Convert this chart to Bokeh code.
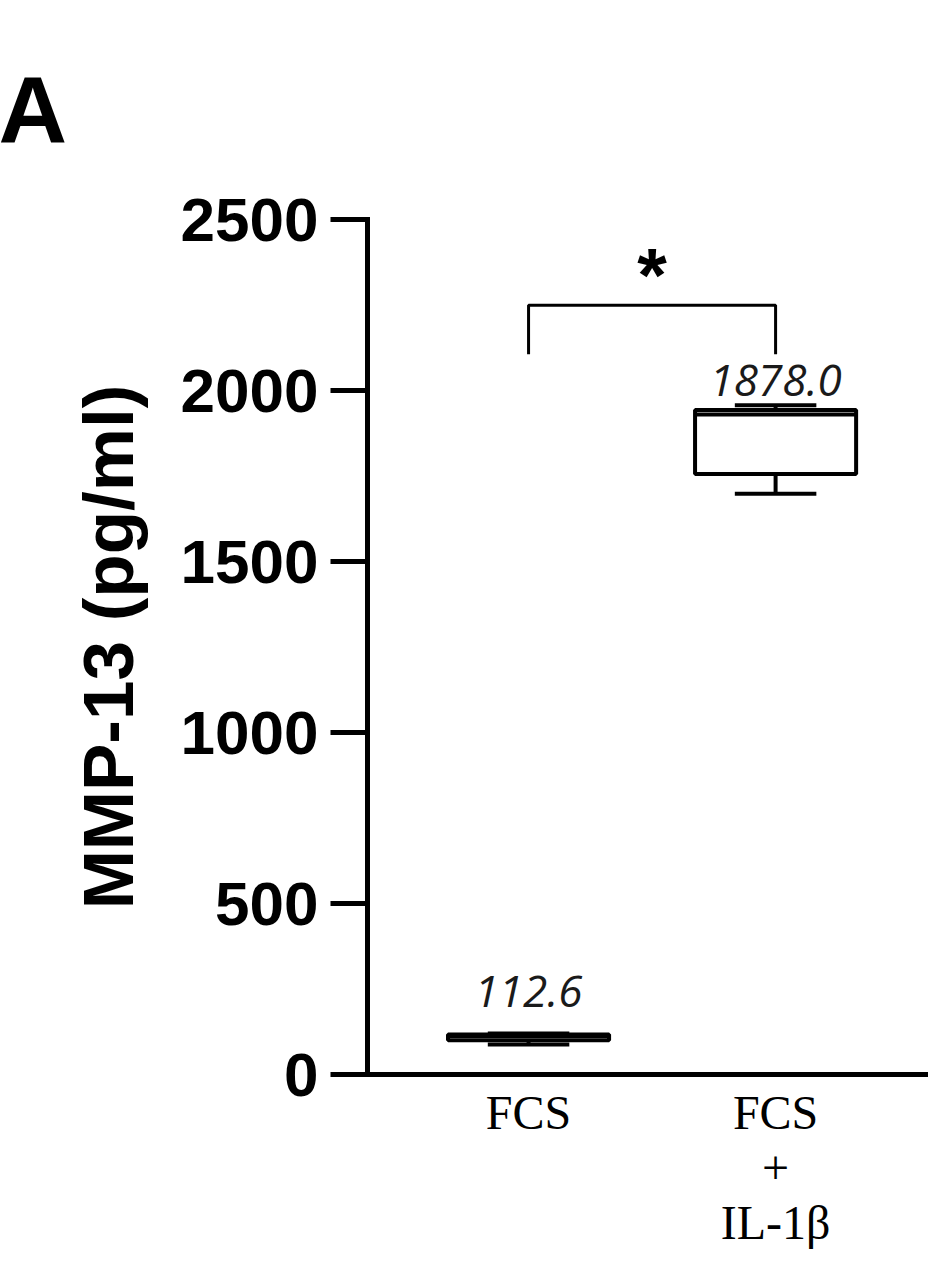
import numpy as np
from bokeh.plotting import figure
from bokeh.models import Range1d, FixedTicker, ColumnDataSource
from bokeh.core.properties import value
from bokeh.embed import file_html
from bokeh.resources import INLINE

# ---- data ----
groups = ["FCS", "FCS\n+\nIL-1β"]
group_pos = [1, 2]
whisker_lo = [88, 1698]
q1 = [100, 1756]
median = [112.6, 1930]
q3 = [117, 1943]
whisker_hi = [120, 1957]
value_labels = ["112.6", "1878.0"]
y_ticks = [0, 500, 1000, 1500, 2000, 2500]
bracket_low = [2106, 2106]
bracket_top = 2249
significance = "*"
panel_letter = "A"

box_w = 0.652
cap_w = 0.33
label_gap = [-42, -25]

p = figure(width=928, height=1252,
           x_range=Range1d(0.348, 2.619), y_range=Range1d(0, 2500),
           output_backend="svg", toolbar_location=None,
           min_border_left=367, min_border_right=0,
           min_border_top=219, min_border_bottom=178)
p.outline_line_color = None
p.grid.visible = False
p.background_fill_color = "white"

# panel letter as title
p.title.text = panel_letter
p.title.align = "left"
p.title.vertical_align = "top"
p.title.offset = -369
p.title.text_font = "Liberation Sans"
p.title.text_font_style = "bold"
p.title.text_font_size = "95px"
p.title.text_color = "black"
p.title.standoff = 110

src = ColumnDataSource(dict(
    x=group_pos, lo=whisker_lo, q1=q1, med=median, q3=q3, hi=whisker_hi,
    left=[x - box_w / 2 for x in group_pos], right=[x + box_w / 2 for x in group_pos],
    cl=[x - cap_w / 2 for x in group_pos], cr=[x + cap_w / 2 for x in group_pos],
    lab=value_labels, yoff=label_gap))

lw = 4
# whiskers
p.segment(x0="x", x1="x", y0="q3", y1="hi", source=src, line_color="black", line_width=lw)
p.segment(x0="x", x1="x", y0="lo", y1="q1", source=src, line_color="black", line_width=lw)
p.segment(x0="cl", x1="cr", y0="hi", y1="hi", source=src, line_color="black", line_width=lw)
p.segment(x0="cl", x1="cr", y0="lo", y1="lo", source=src, line_color="black", line_width=lw)
# boxes
p.quad(left="left", right="right", bottom="q1", top="q3", source=src,
       fill_color="white", line_color="black", line_width=lw)
p.segment(x0="left", x1="right", y0="med", y1="med", source=src, line_color="black", line_width=lw)

# value labels
p.text(x="x", y="hi", text="lab", source=src, text_align="center", text_baseline="alphabetic",
       text_font=value("Open Sans"), text_font_style="italic", text_font_size="44px",
       text_color="#1a1a1a", y_offset="yoff")

# significance bracket
p.line(x=[group_pos[0], group_pos[0], group_pos[1], group_pos[1]],
       y=[bracket_low[0], bracket_top, bracket_top, bracket_low[1]],
       line_color="black", line_width=3)
p.text(x=[(group_pos[0] + group_pos[1]) / 2], y=[bracket_top], text=[significance],
       text_align="center", text_baseline="alphabetic",
       text_font=value("Liberation Sans"), text_font_style="bold", text_font_size="76px",
       text_color="black", y_offset=-31)

# axes styling
xa = p.xaxis[0]
xa.ticker = FixedTicker(ticks=group_pos)
xa.major_label_overrides = {k: v for k, v in zip(group_pos, groups)}
xa.axis_line_width = 5
xa.axis_line_cap = "square"
xa.major_tick_line_color = None
xa.minor_tick_line_color = None
xa.major_label_text_font = "Liberation Serif"
xa.major_label_text_font_size = "48px"
xa.major_label_text_color = "black"
xa.major_label_text_line_height = 1.04
xa.major_label_standoff = 5

ya = p.yaxis[0]
ya.ticker = FixedTicker(ticks=y_ticks)
ya.axis_line_width = 5
ya.axis_line_cap = "square"
ya.major_tick_line_width = 5
ya.major_tick_out = 37
ya.major_tick_in = 0
ya.minor_tick_line_color = None
ya.major_label_text_font = "Liberation Sans"
ya.major_label_text_font_style = "bold"
ya.major_label_text_font_size = "62px"
ya.major_label_text_color = "black"
ya.major_label_standoff = 12
ya.axis_label = "MMP-13 (pg/ml)"
ya.axis_label_text_font = "Liberation Sans"
ya.axis_label_text_font_style = "bold"
ya.axis_label_text_font_size = "71px"
ya.axis_label_text_color = "black"
ya.axis_label_standoff = 30

open("out.html", "w").write(file_html(p, INLINE))
